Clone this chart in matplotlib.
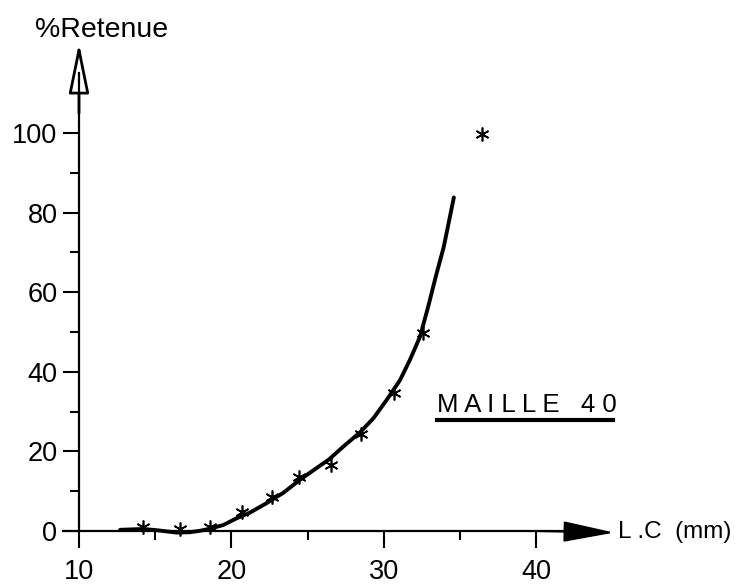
import numpy as np
import matplotlib
matplotlib.use("Agg")
import matplotlib.pyplot as plt
from matplotlib.patches import FancyArrowPatch
from matplotlib.ticker import FixedLocator

plt.rcParams['font.family'] = ['Liberation Sans', 'DejaVu Sans']

# measured points (LC in mm, % retained)
lc_pts = [14.2, 16.6, 18.6, 20.7, 22.65, 24.4, 26.5, 28.5, 30.65, 32.55, 36.4]
ret_pts = [0.9, 0.4, 0.9, 4.8, 8.6, 13.5, 16.6, 24.4, 34.6, 49.7, 99.7]

# hand drawn fitted curve
lc_curve = [12.7, 14.2, 15.1, 16.4, 17.3, 18.0, 18.6, 19.46, 20.34, 21.2,
            22.3, 23.4, 24.5, 25.5, 26.4, 27.33, 28.43, 29.3, 30.17, 31.05,
            31.7, 32.36, 32.9, 33.4, 33.92, 34.58]
ret_curve = [0.3, 0.5, 0.2, -0.4, -0.3, 0.1, 0.6, 1.5, 3.2, 4.6,
             7.0, 9.6, 12.9, 15.6, 18.0, 21.2, 24.8, 28.3, 32.9, 37.9,
             43.0, 48.8, 56.4, 64.0, 71.4, 83.8]

x_ticks = [10, 20, 30, 40]
x_minor = [15, 25, 35]
y_ticks = [0, 20, 40, 60, 80, 100]
y_minor = [10, 30, 50, 70, 90]

fig = plt.figure(figsize=(7.41, 5.87), dpi=100)
ax = fig.add_axes([0, 0, 1, 1])
ax.set_xlim(4.82, 53.41)
ax.set_ylim(-14.07, 133.42)

# axes drawn through the origin (10, 0)
for s in ['top', 'right']:
    ax.spines[s].set_visible(False)
ax.spines['left'].set_position(('data', 10))
ax.spines['bottom'].set_position(('data', 0))
ax.spines['left'].set_bounds(0, 115)
ax.spines['bottom'].set_bounds(8.95, 43)
ax.spines['left'].set_linewidth(1.6)
ax.spines['bottom'].set_linewidth(1.6)

ax.set_xticks(x_ticks)
ax.set_yticks(y_ticks)
ax.xaxis.set_minor_locator(FixedLocator(x_minor))
ax.yaxis.set_minor_locator(FixedLocator(y_minor))
ax.tick_params(axis='x', which='major', direction='out', length=12, width=1.5,
               pad=8, labelsize=19.5)
ax.tick_params(axis='x', which='minor', direction='out', length=6.5, width=1.5)
ax.tick_params(axis='y', which='major', direction='out', length=11.5, width=1.5,
               pad=4, labelsize=19.5)
ax.tick_params(axis='y', which='minor', direction='out', length=6.5, width=1.5)

# arrow heads
ax.add_patch(FancyArrowPatch((10, 105), (10, 122.6),
                             arrowstyle='-|>,head_length=31,head_width=6.3',
                             mutation_scale=1, shrinkA=0, shrinkB=0,
                             lw=2, fc='white', ec='black'))
ax.add_patch(FancyArrowPatch((40, 0), (45.1, -0.4),
                             arrowstyle='-|>,head_length=32,head_width=6.5',
                             mutation_scale=1, shrinkA=0, shrinkB=0,
                             lw=1.5, fc='black', ec='black'))

ax.plot(lc_curve, ret_curve, color='black', lw=2.8, solid_capstyle='round',
        solid_joinstyle='round')
ax.plot(lc_pts, ret_pts, ls='none', marker=(6, 2, 0), ms=10, mew=1.2,
        color='black')

ax.text(7.11, 124.1, '%Retenue', fontsize=20.5, ha='left', va='baseline')
ax.text(45.34, -1.76, 'L .C  (mm)', fontsize=17.5, ha='left', va='baseline')
ax.text(33.48, 29.9, 'M A I L L E   4 0', fontsize=18.5, ha='left', va='baseline')
ax.plot([33.48, 45.02], [27.9, 27.9], color='black', lw=3)

fig.savefig('out.png', dpi=100)
